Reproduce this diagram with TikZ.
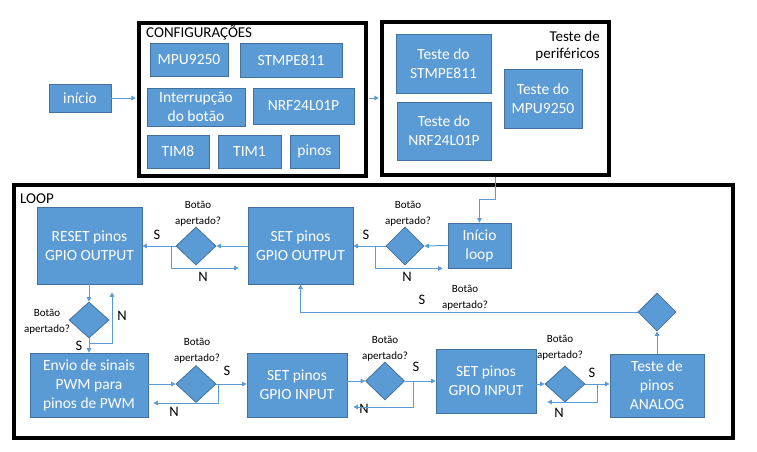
\documentclass[tikz,border=0pt]{standalone}
\usepackage{fontspec}
\setmainfont{Carlito}
\usetikzlibrary{shapes.geometric,arrows.meta,calc}
\definecolor{bfill}{HTML}{5B9BD5}
\definecolor{bedge}{HTML}{41719C}
\definecolor{lcol}{HTML}{5B9BD5}
\newcommand\bxf{\fontsize{15.5}{19}\selectfont}
\newcommand\lbf{\fontsize{15}{17}\selectfont}
\newcommand\qf{\fontsize{11}{16}\selectfont}
\newcommand\snf{\fontsize{14.5}{17}\selectfont}
\begin{document}
\begin{tikzpicture}[x=1pt,y=-1pt,
 blk/.style={draw=bedge,fill=bfill,line width=0.8pt,text=white,align=center,inner sep=0pt,font=\bxf},
 frm/.style={draw=black,line width=3.5pt,inner sep=0pt},
 dia/.style={diamond,draw=bedge,fill=bfill,line width=0.8pt,inner sep=0pt,minimum width=40pt,minimum height=38pt},
 arr/.style={draw=lcol,line width=1pt,-{Triangle[length=4.5pt,width=4.5pt]}},
 ln/.style={draw=lcol,line width=1pt},
 q/.style={font=\qf,align=center,inner sep=0pt},
 sn/.style={font=\snf,inner sep=0pt}]
\fill[white] (0,0) rectangle (757,451);
\useasboundingbox (0,0) rectangle (757,451);
% top
\node[blk,minimum width=62pt,minimum height=28pt] (inicio) at (80,98) {início};
\node[frm,minimum width=227pt,minimum height=153pt] (cfg) at (252.5,99.5) {};
\node[font=\lbf,anchor=base west,inner sep=0pt] (cfgt) at (146,37.5) {CONFIGURAÇÕES};
\node[blk,minimum width=78pt,minimum height=33pt] (mpu) at (189,59.5) {MPU9250};
\node[blk,minimum width=102pt,minimum height=34pt] (stm) at (291,60) {STMPE811};
\node[blk,minimum width=98pt,minimum height=38pt] (intr) at (196,107) {Interrupção\\do botão};
\node[blk,minimum width=101pt,minimum height=36pt] (nrf) at (303.5,106) {NRF24L01P};
\node[blk,minimum width=62pt,minimum height=33pt] (tim8) at (178,151.5) {TIM8};
\node[blk,minimum width=63pt,minimum height=33pt] (tim1) at (249.5,151.5) {TIM1};
\node[blk,minimum width=49pt,minimum height=33pt] (pinos) at (314.5,151.5) {pinos};
\node[frm,minimum width=227pt,minimum height=153pt] (tst) at (495.5,98.5) {};
\node[font=\lbf,align=right,anchor=north east,inner sep=0pt] (tstt) at (600,31) {Teste de\\periféricos};
\node[blk,minimum width=95pt,minimum height=59pt] (tstm) at (443.5,63.5) {Teste do\\STMPE811};
\node[blk,minimum width=94pt,minimum height=58pt] (tnrf) at (444,131) {Teste do\\NRF24L01P};
\node[blk,minimum width=78pt,minimum height=59pt] (tmpu) at (543,98.5) {Teste do\\MPU9250};
% loop
\node[frm,minimum width=719pt,minimum height=253pt] (loop) at (373.5,311.5) {};
\node[font=\lbf,anchor=base west,inner sep=0pt] (loopt) at (20,203) {LOOP};
\node[blk,minimum width=105pt,minimum height=77pt] (reset) at (89.5,245.5) {RESET pinos\\GPIO OUTPUT};
\node[blk,minimum width=105pt,minimum height=77pt] (setout) at (300.5,245.5) {SET pinos\\GPIO OUTPUT};
\node[blk,minimum width=63pt,minimum height=45pt] (iniloop) at (479.5,245.5) {Início\\loop};
\node[blk,minimum width=118pt,minimum height=64pt] (envio) at (89,385) {Envio de sinais\\PWM para\\pinos de PWM};
\node[blk,minimum width=100pt,minimum height=64pt] (setin1) at (297,385) {SET pinos\\GPIO INPUT};
\node[blk,minimum width=100pt,minimum height=64pt] (setin2) at (486,381) {SET pinos\\GPIO INPUT};
\node[blk,minimum width=94pt,minimum height=63pt] (analog) at (657,385.5) {Teste de\\pinos\\ANALOG};
% diamonds
\node[dia] (d1) at (196,246) {};
\node[dia,minimum width=38pt] (d2) at (405,246) {};
\node[dia,minimum height=36pt] (d3) at (89,320) {};
\node[dia,minimum height=37pt] (d4) at (196,384) {};
\node[dia,minimum width=39pt] (d5) at (385,381) {};
\node[dia,minimum height=36pt] (d6) at (565,384) {};
\node[dia,minimum width=38pt] (d7) at (657,312) {};
% question labels
\node[q] (q1) at (198,214) {Botão\\apertado?};
\node[q] (q2) at (408,214) {Botão\\apertado?};
\node[q] (q3) at (47,322) {Botão\\apertado?};
\node[q] (q4) at (197,351) {Botão\\apertado?};
\node[q] (q5) at (385,349) {Botão\\apertado?};
\node[q] (q6) at (560,348) {Botão\\apertado?};
\node[q] (q7) at (465,298) {Botão\\apertado?};
% S/N labels
\node[sn] (s1) at (157,235) {S};
\node[sn] (n1) at (203,277) {N};
\node[sn] (s2) at (366,235) {S};
\node[sn] (n2) at (407,277) {N};
\node[sn] (n3) at (122,316) {N};
\node[sn] (s3) at (79,346) {S};
\node[sn] (s4) at (227,371) {S};
\node[sn] (n4) at (174,412) {N};
\node[sn] (s5) at (416,367) {S};
\node[sn] (n5) at (364,409) {N};
\node[sn] (s6) at (592,373) {S};
\node[sn] (n6) at (559,413) {N};
\node[sn] (s7) at (422,299.5) {S};
% connectors top
\draw[arr,shorten >=1.5pt] (inicio.east) -- (inicio.east -| cfg.west);
\draw[arr,shorten >=1.5pt,shorten <=1.5pt] (cfg.east |- inicio.east) -- (inicio.east -| tst.west);
\draw[arr] (tst.south) -- ++(0,23) -| (iniloop.north);
% loop top row
\draw[arr] (iniloop.west) -- (d2.east);
\draw[arr] (d2.west) -- (d2.west -| setout.east);
\draw[arr] ($(d2.west)+(-10,0)$) |- ($(iniloop.south west)+(-5,0)$);
\draw[arr] (setout.west |- d1.east) -- (d1.east);
\draw[arr] (d1.west) -- (d1.west -| reset.east);
\draw[arr] ($(d1.west)+(-4,0)$) |- ($(setout.west)+(-9,22.5)$);
% left column
\draw[arr] (reset.south -| d3.north) -- (d3.north);
\draw[arr] (d3.south) -- (d3.south |- envio.north);
\draw[arr] ($(d3.south)+(0,5)$) -- ++(23,0) -- ++(0,-51);
% bottom row
\draw[arr] (envio.east |- d4.west) -- (d4.west);
\draw[arr] (d4.east) -- (d4.east -| setin1.west);
\draw[arr] ($(d4.east)+(2,0)$) |- ($(envio.east)+(5,18)$);
\draw[arr] (setin1.east |- d5.west) -- (d5.west);
\draw[arr] (d5.east) -- (d5.east -| setin2.west);
\draw[arr] ($(d5.east)+(9,0)$) |- ($(setin1.east)+(6,22)$);
\draw[arr] (setin2.east |- d6.west) -- (d6.west);
\draw[arr] (d6.east) -- (d6.east -| analog.west);
\draw[arr] ($(d6.east)+(12,0)$) |- ($(setin2.east)+(11,21)$);
\draw[arr] (analog.north) -- (d7.south);
\draw[arr] (d7.west) -| (setout.south);
\end{tikzpicture}
\end{document}
